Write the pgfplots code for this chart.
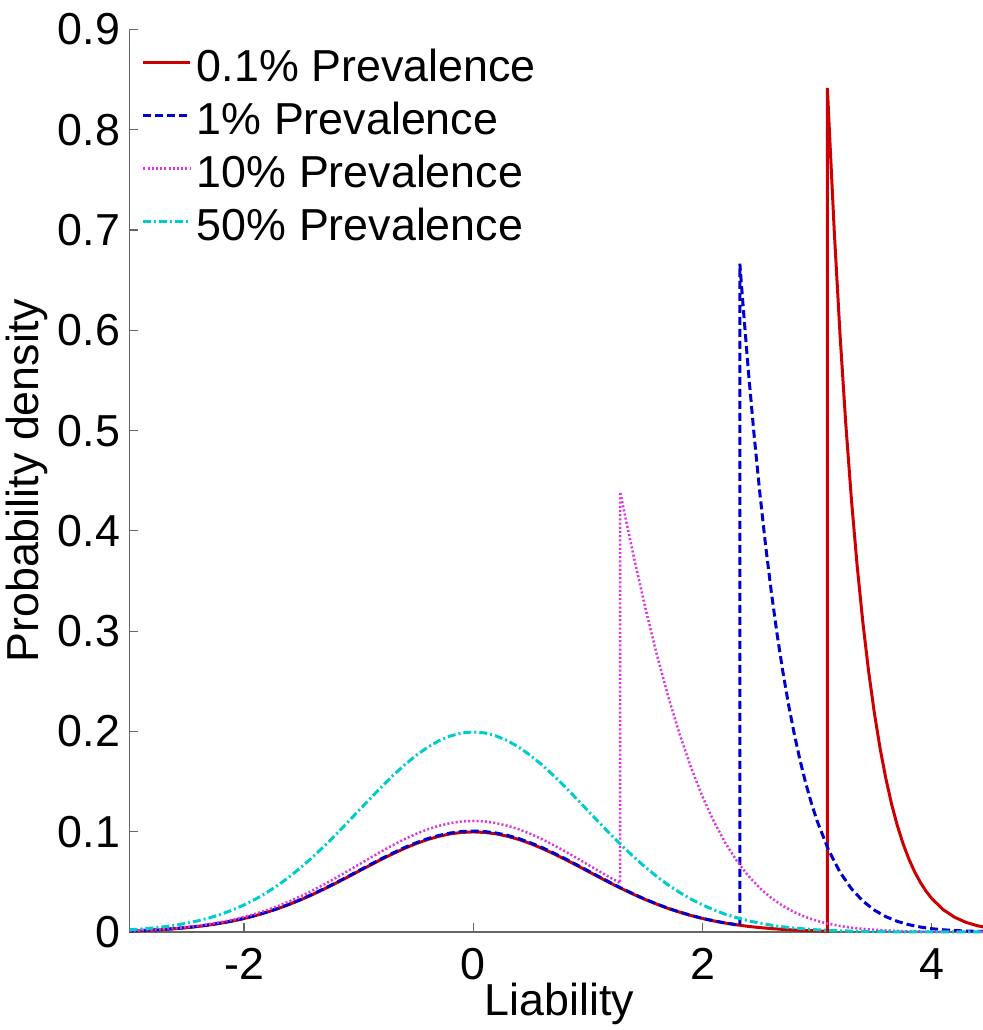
\documentclass[border=0pt]{standalone}
\usepackage{fontspec}
\setmainfont{Liberation Sans}
\usepackage{pgfplots}
\pgfplotsset{compat=1.18}

\definecolor{mred}{rgb}{0.8,0,0}
\definecolor{mblue}{rgb}{0,0,0.8}
\definecolor{mmag}{rgb}{0.87,0.2,0.87}
\definecolor{mcyan}{rgb}{0,0.8,0.8}

\begin{document}
\begin{tikzpicture}
\begin{axis}[
  scale only axis, width=429.75pt, height=451.25pt,
  xmin=-3, xmax=4.5, ymin=0, ymax=0.9,
  xtick={-2,0,2,4}, ytick={0,0.1,0.2,0.3,0.4,0.5,0.6,0.7,0.8,0.9},
  axis x line*=bottom, axis y line*=left,
  axis line style={black!60, line width=0.6pt, -},
  tick align=inside, major tick length=4.5pt,
  every tick/.style={black!60, line width=0.6pt},
  /pgf/number format/assume math mode=true,
  /pgf/number format/fixed,
  font=\fontsize{22.4}{26}\selectfont,
  tick label style={font=\fontsize{22.4}{26}\selectfont},
  xticklabel style={anchor=base, inner sep=0pt, yshift=-23.5pt},
  yticklabel style={anchor=east, inner sep=0pt, xshift=-4.5pt},
  xlabel={Liability}, ylabel={Probability density},
  xlabel style={at={(axis description cs:0.5,-0.093)}, anchor=base, inner sep=0pt},
  ylabel style={at={(axis description cs:-0.0942,0.5)}, anchor=south, inner sep=0pt},
  clip=false,
  legend cell align=left,
  legend image code/.code={\draw[#1] (0pt,3.5pt) -- (23.5pt,3.5pt);},
  legend style={draw=none, fill=none, at={(axis description cs:0.0145,0.9787)}, anchor=north west,
    inner sep=0pt, outer sep=0pt, row sep=5.5pt,
    nodes={inner sep=0pt, text height=16.5pt, text depth=4.5pt},
    /tikz/every odd column/.append style={column sep=2.5pt},
    font=\fontsize{22.4}{26}\selectfont},
]
% 0.1% prevalence
\addplot[mred, line width=1.5pt] coordinates {
(-3.0,0.0011)(-2.9,0.0015)(-2.8,0.0020)(-2.7,0.0026)(-2.6,0.0034)(-2.5,0.0044)(-2.4,0.0056)(-2.3,0.0071)(-2.2,0.0089)(-2.1,0.0110)
(-2.0,0.0135)(-1.9,0.0164)(-1.8,0.0198)(-1.7,0.0235)(-1.6,0.0278)(-1.5,0.0324)(-1.4,0.0375)(-1.3,0.0429)(-1.2,0.0486)(-1.1,0.0545)
(-1.0,0.0606)(-0.9,0.0666)(-0.8,0.0725)(-0.7,0.0781)(-0.6,0.0834)(-0.5,0.0881)(-0.4,0.0922)(-0.3,0.0954)(-0.2,0.0979)(-0.1,0.0993)
(0.0,0.0998)(0.1,0.0993)(0.2,0.0979)(0.3,0.0954)(0.4,0.0922)(0.5,0.0881)(0.6,0.0834)(0.7,0.0781)(0.8,0.0725)(0.9,0.0666)
(1.0,0.0606)(1.1,0.0545)(1.2,0.0486)(1.3,0.0429)(1.4,0.0375)(1.5,0.0324)(1.6,0.0278)(1.7,0.0235)(1.8,0.0198)(1.9,0.0164)
(2.0,0.0135)(2.1,0.0110)(2.2,0.0089)(2.3,0.0071)(2.4,0.0056)(2.5,0.0044)(2.6,0.0034)(2.7,0.0026)(2.8,0.0020)(2.9,0.0015)
(3.0,0.0011)(3.09,0.0008)
(3.09,0.8418)(3.1,0.8167)(3.15,0.6984)(3.2,0.5960)(3.25,0.5072)(3.3,0.4307)(3.35,0.3647)(3.4,0.3081)(3.45,0.2595)(3.5,0.2182)
(3.55,0.1829)(3.6,0.1530)(3.65,0.1276)(3.7,0.1062)(3.75,0.0881)(3.8,0.0730)(3.85,0.0603)(3.9,0.0497)(3.95,0.0408)(4.0,0.0335)
(4.1,0.0223)(4.2,0.0147)(4.3,0.0096)(4.4,0.0062)(4.5,0.0040)};
\addlegendentry{0.1\% Prevalence}
% 1% prevalence
\addplot[mblue, line width=1.5pt, dash pattern=on 4pt off 2pt] coordinates {
(-3.0,0.0011)(-2.9,0.0015)(-2.8,0.0020)(-2.7,0.0026)(-2.6,0.0034)(-2.5,0.0044)(-2.4,0.0057)(-2.3,0.0072)(-2.2,0.0090)(-2.1,0.0111)
(-2.0,0.0136)(-1.9,0.0166)(-1.8,0.0199)(-1.7,0.0237)(-1.6,0.0280)(-1.5,0.0327)(-1.4,0.0378)(-1.3,0.0433)(-1.2,0.0490)(-1.1,0.0550)
(-1.0,0.0611)(-0.9,0.0672)(-0.8,0.0732)(-0.7,0.0788)(-0.6,0.0842)(-0.5,0.0889)(-0.4,0.0930)(-0.3,0.0963)(-0.2,0.0987)(-0.1,0.1002)
(0.0,0.1007)(0.1,0.1002)(0.2,0.0987)(0.3,0.0963)(0.4,0.0930)(0.5,0.0889)(0.6,0.0842)(0.7,0.0788)(0.8,0.0732)(0.9,0.0672)
(1.0,0.0611)(1.1,0.0550)(1.2,0.0490)(1.3,0.0433)(1.4,0.0378)(1.5,0.0327)(1.6,0.0280)(1.7,0.0237)(1.8,0.0199)(1.9,0.0166)
(2.0,0.0136)(2.1,0.0111)(2.2,0.0090)(2.3,0.0072)(2.326,0.0067)
(2.326,0.6665)(2.35,0.6306)(2.4,0.5599)(2.45,0.4960)(2.5,0.4382)(2.55,0.3862)(2.6,0.3396)(2.65,0.2977)(2.7,0.2605)(2.75,0.2273)
(2.8,0.1979)(2.85,0.1718)(2.9,0.1488)(2.95,0.1286)(3.0,0.1108)(3.1,0.0817)(3.2,0.0596)(3.3,0.0431)(3.4,0.0308)(3.5,0.0218)
(3.6,0.0153)(3.7,0.0106)(3.8,0.0073)(3.9,0.0050)(4.0,0.0033)(4.1,0.0022)(4.2,0.0015)(4.3,0.0010)(4.4,0.0006)(4.5,0.0004)};
\addlegendentry{1\% Prevalence}
% 10% prevalence
\addplot[mmag, line width=1.25pt, dash pattern=on 1pt off 1.1pt] coordinates {
(-3.0,0.0012)(-2.9,0.0017)(-2.8,0.0022)(-2.7,0.0029)(-2.6,0.0038)(-2.5,0.0049)(-2.4,0.0062)(-2.3,0.0079)(-2.2,0.0099)(-2.1,0.0122)
(-2.0,0.0150)(-1.9,0.0182)(-1.8,0.0219)(-1.7,0.0261)(-1.6,0.0308)(-1.5,0.0360)(-1.4,0.0416)(-1.3,0.0476)(-1.2,0.0539)(-1.1,0.0605)
(-1.0,0.0672)(-0.9,0.0739)(-0.8,0.0805)(-0.7,0.0867)(-0.6,0.0926)(-0.5,0.0978)(-0.4,0.1023)(-0.3,0.1059)(-0.2,0.1086)(-0.1,0.1103)
(0.0,0.1108)(0.1,0.1103)(0.2,0.1086)(0.3,0.1059)(0.4,0.1023)(0.5,0.0978)(0.6,0.0926)(0.7,0.0867)(0.8,0.0805)(0.9,0.0739)
(1.0,0.0672)(1.1,0.0605)(1.2,0.0539)(1.2816,0.0488)
(1.2816,0.4388)(1.3,0.4284)(1.4,0.3743)(1.5,0.3238)(1.6,0.2773)(1.7,0.2351)(1.8,0.1974)(1.9,0.1640)(2.0,0.1350)(2.1,0.1100)
(2.2,0.0887)(2.3,0.0708)(2.4,0.0560)(2.5,0.0438)(2.6,0.0340)(2.7,0.0261)(2.8,0.0198)(2.9,0.0149)(3.0,0.0111)(3.1,0.0082)
(3.2,0.0060)(3.3,0.0043)(3.4,0.0031)(3.5,0.0022)(3.6,0.0015)(3.7,0.0011)(3.8,0.0007)(3.9,0.0005)(4.0,0.0003)(4.2,0.0001)(4.5,0.0000)};
\addlegendentry{10\% Prevalence}
% 50% prevalence
\addplot[mcyan, line width=1.5pt, dash pattern=on 4pt off 1.5pt on 1pt off 1.5pt] coordinates {
(-3.0,0.0022)(-2.9,0.0030)(-2.8,0.0040)(-2.7,0.0052)(-2.6,0.0068)(-2.5,0.0088)(-2.4,0.0112)(-2.3,0.0142)(-2.2,0.0177)(-2.1,0.0220)
(-2.0,0.0270)(-1.9,0.0328)(-1.8,0.0395)(-1.7,0.0470)(-1.6,0.0555)(-1.5,0.0648)(-1.4,0.0749)(-1.3,0.0857)(-1.2,0.0971)(-1.1,0.1089)
(-1.0,0.1210)(-0.9,0.1330)(-0.8,0.1448)(-0.7,0.1561)(-0.6,0.1666)(-0.5,0.1760)(-0.4,0.1841)(-0.3,0.1907)(-0.2,0.1955)(-0.1,0.1985)
(0.0,0.1995)(0.1,0.1985)(0.2,0.1955)(0.3,0.1907)(0.4,0.1841)(0.5,0.1760)(0.6,0.1666)(0.7,0.1561)(0.8,0.1448)(0.9,0.1330)
(1.0,0.1210)(1.1,0.1089)(1.2,0.0971)(1.3,0.0857)(1.4,0.0749)(1.5,0.0648)(1.6,0.0555)(1.7,0.0470)(1.8,0.0395)(1.9,0.0328)
(2.0,0.0270)(2.1,0.0220)(2.2,0.0177)(2.3,0.0142)(2.4,0.0112)(2.5,0.0088)(2.6,0.0068)(2.7,0.0052)(2.8,0.0040)(2.9,0.0030)
(3.0,0.0022)(3.1,0.0016)(3.2,0.0012)(3.3,0.0009)(3.4,0.0006)(3.5,0.0004)(3.6,0.0003)(3.7,0.0002)(3.8,0.0001)(4.0,0.0001)(4.5,0.0000)};
\addlegendentry{50\% Prevalence}
\coordinate (O) at (axis cs:-3,0);
\end{axis}
\pgfresetboundingbox
\path[use as bounding box] ([shift={(-64.75pt,-49pt)}]O) rectangle ([shift={(426.25pt,466pt)}]O);
\end{tikzpicture}
\end{document}
